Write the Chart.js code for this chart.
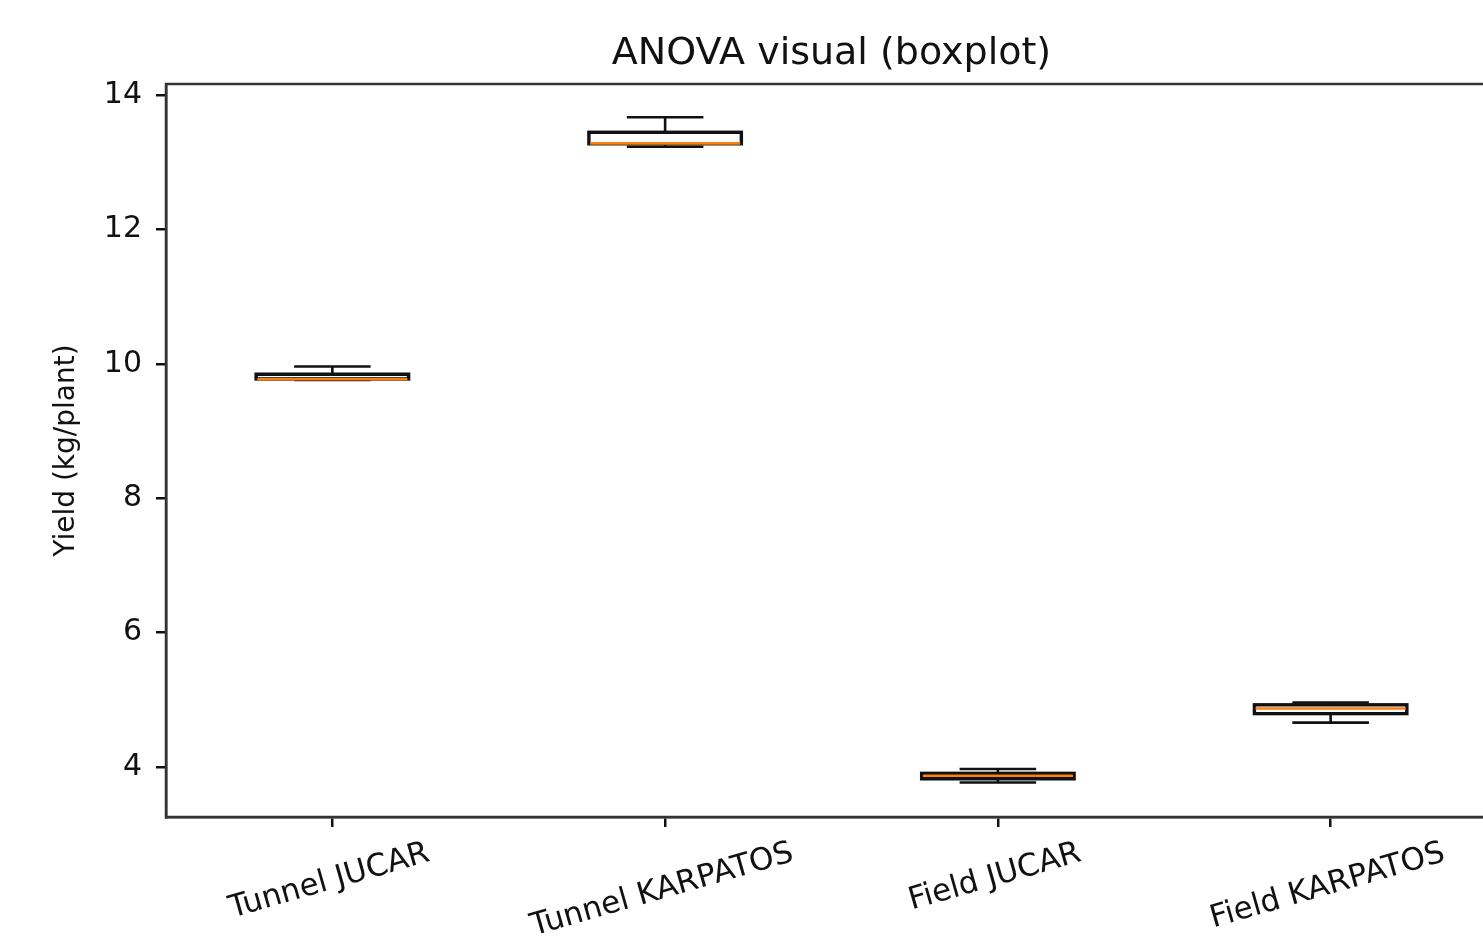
<!DOCTYPE html>
<html>
<head>
<meta charset="utf-8">
<script src="https://cdn.jsdelivr.net/npm/chart.js@4.4.1/dist/chart.umd.min.js"></script>
<style>
  html, body { margin: 0; padding: 0; background: #fff; overflow: hidden; }
  #wrap { width: 1510px; height: 938px; }
</style>
</head>
<body>
<div id="wrap"><canvas id="c" width="1510" height="938"></canvas></div>
<script>
const categories = ['Tunnel JUCAR', 'Tunnel KARPATOS', 'Field JUCAR', 'Field KARPATOS'];
const mins    = [9.76, 13.23, 3.77, 4.66];
const q1s     = [9.77, 13.27, 3.82, 4.79];
const medians = [9.77, 13.28, 3.87, 4.87];
const q3s     = [9.85, 13.45, 3.91, 4.93];
const maxs    = [9.96, 13.67, 3.97, 4.96];
const yTicks  = [4, 6, 8, 10, 12, 14];

const FONT = '"DejaVu Sans", sans-serif';

const boxPlugin = {
  id: 'boxParts',
  afterDatasetsDraw(chart) {
    const ctx = chart.ctx;
    const y = chart.scales.y;
    const meta = chart.getDatasetMeta(0);
    ctx.save();
    meta.data.forEach((bar, i) => {
      const cx = bar.x;
      const half = bar.width / 2;
      const capHalf = half / 2;
      const pMin = y.getPixelForValue(mins[i]);
      const pMax = y.getPixelForValue(maxs[i]);
      const pQ1 = y.getPixelForValue(q1s[i]);
      const pQ3 = y.getPixelForValue(q3s[i]);
      const pMed = y.getPixelForValue(medians[i]);
      ctx.strokeStyle = '#111';
      ctx.lineWidth = 2.6;
      ctx.beginPath();
      ctx.moveTo(cx, pQ3); ctx.lineTo(cx, pMax);
      ctx.moveTo(cx, pQ1); ctx.lineTo(cx, pMin);
      ctx.moveTo(cx - capHalf, pMax); ctx.lineTo(cx + capHalf, pMax);
      ctx.moveTo(cx - capHalf, pMin); ctx.lineTo(cx + capHalf, pMin);
      ctx.stroke();
      // box outline
      ctx.lineWidth = 2.8;
      ctx.strokeRect(cx - half, pQ3, half * 2, pQ1 - pQ3);
      ctx.strokeStyle = '#ff7f0e';
      ctx.lineWidth = 2.6;
      ctx.beginPath();
      ctx.moveTo(cx - half + 1.5, pMed); ctx.lineTo(cx + half - 1.5, pMed);
      ctx.stroke();
    });
    ctx.restore();
  },
  afterDraw(chart) {
    const ctx = chart.ctx;
    const a = chart.chartArea;
    const x = chart.scales.x;
    ctx.save();
    // frame
    ctx.strokeStyle = '#333';
    ctx.lineWidth = 2.5;
    ctx.strokeRect(a.left, a.top, a.right - a.left, a.bottom - a.top);
    // rotated x labels, centered under ticks
    const fs = 31;
    ctx.font = fs + 'px ' + FONT;
    ctx.fillStyle = '#111';
    ctx.textAlign = 'center';
    ctx.textBaseline = 'middle';
    const ang = 16 * Math.PI / 180;
    categories.forEach((lab, i) => {
      const px = x.getPixelForValue(i);
      const w = ctx.measureText(lab).width;
      const halfH = (w * Math.sin(ang) + fs * Math.cos(ang)) / 2;
      const cy = a.bottom + 10 + 11 + halfH;
      ctx.save();
      ctx.translate(px - 3, cy);
      ctx.rotate(-ang);
      ctx.fillText(lab, 0, 0);
      ctx.restore();
    });
    ctx.restore();
  }
};

new Chart(document.getElementById('c'), {
  type: 'bar',
  data: {
    labels: categories,
    datasets: [{
      data: q1s.map((v, i) => [v, q3s[i]]),
      backgroundColor: 'rgba(255,255,255,0)',
      borderColor: '#111',
      borderWidth: 2,
      borderSkipped: false,
      barPercentage: 0.46,
      categoryPercentage: 1.0
    }]
  },
  options: {
    responsive: false,
    animation: false,
    layout: { padding: { left: 0, right: 13, top: 0, bottom: 0 } },
    plugins: {
      legend: { display: false },
      tooltip: { enabled: false },
      title: {
        display: true,
        text: 'ANOVA visual (boxplot)',
        fullSize: false,
        color: '#111',
        font: { family: FONT, size: 38, weight: 'normal' },
        padding: { top: 31, bottom: 7.4 }
      }
    },
    scales: {
      x: {
        offset: true,
        ticks: { display: false },
        grid: { display: true, offset: false, drawOnChartArea: false, drawTicks: true, tickLength: 10, color: '#111', lineWidth: 2.5 },
        border: { display: true, color: '#333', width: 2.5 },
        afterFit(scale) { scale.height = 121; }
      },
      y: {
        min: 3.256,
        max: 14.164,
        afterBuildTicks(scale) { scale.ticks = yTicks.map(v => ({ value: v })); },
        ticks: {
          color: '#111',
          padding: 14,
          font: { family: FONT, size: 30 },
          callback: v => String(v)
        },
        grid: { display: true, drawOnChartArea: false, drawTicks: true, tickLength: 10, color: '#111', lineWidth: 2.5 },
        border: { display: true, color: '#333', width: 2.5 },
        title: {
          display: true,
          text: 'Yield (kg/plant)',
          color: '#111',
          font: { family: FONT, size: 28 },
          padding: { top: 50, bottom: 0 }
        },
        afterFit(scale) { scale.width = 166; }
      }
    }
  },
  plugins: [boxPlugin]
});
</script>
</body>
</html>
